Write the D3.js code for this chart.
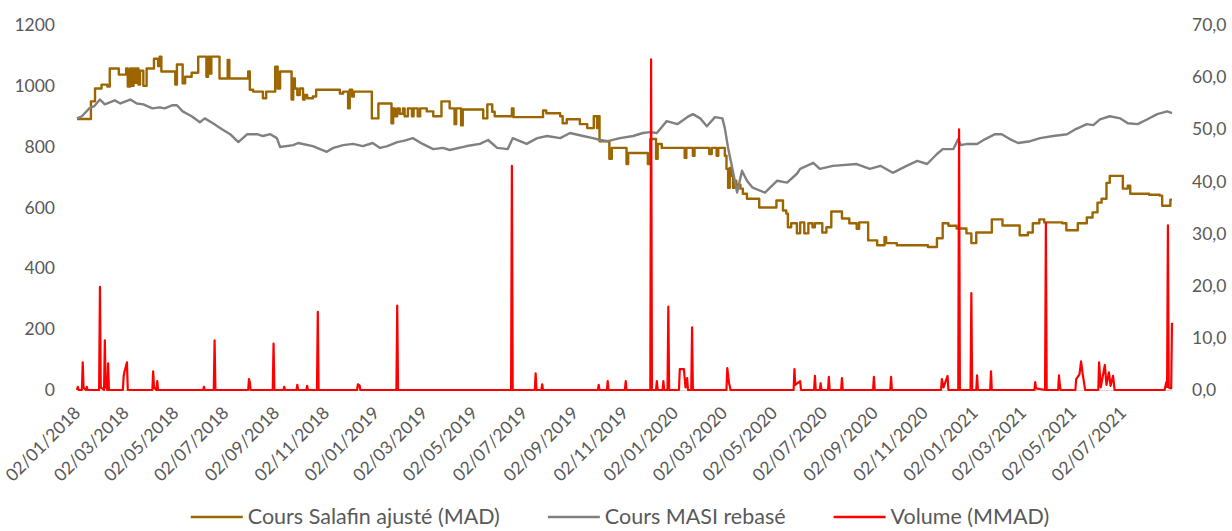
<!DOCTYPE html>
<html>
<head>
<meta charset="utf-8">
<script src="https://cdn.jsdelivr.net/npm/d3@7"></script>
<style>
  body { margin: 0; background: #fff; }
  svg { display: block; font-family: Lato, "Open Sans", sans-serif; }
</style>
</head>
<body>
<svg id="chart" width="1232" height="531"></svg>
<script>
// Cours Salafin ajusté (MAD) - dates de changement de cours
var salafinDates = ["2018-01-02","2018-01-19","2018-01-24","2018-02-01","2018-02-08","2018-02-11","2018-02-22","2018-03-03","2018-03-05","2018-03-08",
  "2018-03-10","2018-03-12","2018-03-14","2018-03-16","2018-03-18","2018-03-20","2018-03-24","2018-03-28","2018-04-06","2018-04-11",
  "2018-04-13","2018-04-15","2018-05-02","2018-05-04","2018-05-11","2018-05-14","2018-05-22","2018-05-30","2018-06-09","2018-06-11",
  "2018-06-13","2018-06-15","2018-06-25","2018-07-05","2018-07-07","2018-07-30","2018-08-01","2018-08-05","2018-08-17","2018-08-21",
  "2018-09-01","2018-09-04","2018-09-07","2018-09-21","2018-09-23","2018-09-25","2018-09-28","2018-10-01","2018-10-05","2018-10-07",
  "2018-10-10","2018-10-17","2018-10-21","2018-11-19","2018-11-23","2018-11-29","2018-12-01","2018-12-04","2018-12-06","2018-12-28",
  "2019-01-05","2019-01-21","2019-01-23","2019-01-25","2019-01-28","2019-01-31","2019-02-04","2019-02-06","2019-02-10","2019-02-15",
  "2019-02-17","2019-02-22","2019-02-25","2019-03-05","2019-03-13","2019-03-23","2019-04-02","2019-04-08","2019-04-10","2019-04-16",
  "2019-04-18","2019-05-13","2019-05-18","2019-05-24","2019-05-27","2019-06-17","2019-06-19","2019-07-25","2019-07-29","2019-08-15",
  "2019-08-18","2019-08-23","2019-09-08","2019-09-17","2019-09-25","2019-09-29","2019-09-30","2019-10-02","2019-10-14","2019-10-17",
  "2019-11-04","2019-11-06","2019-11-30","2019-12-03","2019-12-10","2019-12-12","2019-12-17","2020-01-14","2020-01-16","2020-01-24",
  "2020-01-26","2020-02-13","2020-02-16","2020-02-22","2020-02-24","2020-03-03","2020-03-05","2020-03-07","2020-03-09","2020-03-11",
  "2020-03-13","2020-03-15","2020-03-17","2020-03-22","2020-03-25","2020-03-30","2020-04-14","2020-05-05","2020-05-13","2020-05-17",
  "2020-05-19","2020-05-23","2020-05-30","2020-06-03","2020-06-08","2020-06-13","2020-06-18","2020-06-21","2020-06-30","2020-07-05",
  "2020-07-11","2020-07-24","2020-08-02","2020-08-11","2020-08-14","2020-08-25","2020-09-05","2020-09-14","2020-09-16","2020-09-29",
  "2020-11-06","2020-11-17","2020-11-24","2020-12-01","2020-12-11","2020-12-23","2020-12-29","2021-01-04","2021-01-23","2021-02-05",
  "2021-02-26","2021-03-08","2021-03-14","2021-03-22","2021-03-28","2021-04-19","2021-04-24","2021-05-08","2021-05-19","2021-05-26",
  "2021-06-01","2021-06-06","2021-06-12","2021-06-16","2021-07-02","2021-07-08","2021-07-11","2021-08-03","2021-08-16","2021-08-19",
  "2021-08-29","2021-08-31"];
var salafinValues = [891,949,991,1004,998,1057,1037,1057,998,1057,
  1000,1057,1010,1057,1004,1050,1000,1057,1089,1065,
  1096,1047,1004,1070,1008,1030,1043,1096,1030,1096,
  1040,1096,1024,1085,1024,1047,987,981,959,981,
  1063,991,1047,955,1024,991,970,991,955,970,
  959,965,987,975,981,926,987,965,981,893,
  942,877,926,900,926,908,926,900,926,900,
  926,900,926,916,900,949,926,874,926,870,
  922,893,939,915,900,926,897,919,910,900,
  877,890,874,861,900,861,900,818,760,796,
  743,779,743,825,760,809,796,763,796,770,
  796,776,796,770,796,770,727,665,730,704,
  665,688,675,662,645,629,600,623,590,580,
  535,548,515,551,515,548,535,548,518,535,
  587,564,548,530,551,492,476,502,483,476,
  470,499,548,540,531,515,483,518,561,541,
  509,518,548,561,551,548,525,548,567,584,
  616,629,681,704,662,672,645,642,639,606,
  626,626];

// Cours MASI rebasé
var masiDates = ["2018-01-02","2018-01-08","2018-01-17","2018-01-23","2018-01-30","2018-02-05","2018-02-17","2018-02-24","2018-03-08","2018-03-16",
  "2018-03-24","2018-04-04","2018-04-13","2018-04-19","2018-04-28","2018-05-04","2018-05-11","2018-05-22","2018-06-01","2018-06-07",
  "2018-06-17","2018-06-28","2018-07-08","2018-07-18","2018-07-29","2018-08-10","2018-08-17","2018-08-26","2018-09-03","2018-09-07",
  "2018-09-23","2018-09-29","2018-10-17","2018-11-03","2018-11-11","2018-11-23","2018-12-05","2018-12-17","2018-12-29","2019-01-07",
  "2019-01-16","2019-01-28","2019-02-06","2019-02-16","2019-02-28","2019-03-13","2019-03-25","2019-04-02","2019-04-23","2019-05-09",
  "2019-05-19","2019-05-30","2019-06-12","2019-06-18","2019-07-05","2019-07-18","2019-07-30","2019-08-15","2019-08-27","2019-09-12",
  "2019-09-24","2019-10-03","2019-10-12","2019-10-27","2019-11-12","2019-11-24","2019-12-03","2019-12-11","2019-12-23","2020-01-05",
  "2020-01-17","2020-01-24","2020-02-02","2020-02-10","2020-02-20","2020-02-29","2020-03-03","2020-03-07","2020-03-12","2020-03-18",
  "2020-03-24","2020-03-30","2020-04-06","2020-04-21","2020-05-06","2020-05-18","2020-05-30","2020-06-03","2020-06-19","2020-06-27",
  "2020-07-13","2020-08-11","2020-08-27","2020-09-09","2020-09-24","2020-10-11","2020-10-24","2020-11-05","2020-11-17","2020-11-24",
  "2020-12-07","2020-12-13","2020-12-16","2020-12-24","2021-01-05","2021-01-15","2021-01-27","2021-02-04","2021-02-14","2021-02-24",
  "2021-03-11","2021-03-23","2021-04-08","2021-04-25","2021-05-05","2021-05-19","2021-05-27","2021-06-04","2021-06-16","2021-06-29",
  "2021-07-08","2021-07-20","2021-08-01","2021-08-13","2021-08-25","2021-08-31"];
var masiValues = [893,900,926,933,955,939,952,942,955,942,
  939,926,929,926,936,936,916,900,880,893,
  877,857,841,815,841,841,835,841,828,799,
  805,812,802,783,796,805,809,802,812,796,
  802,815,820,828,809,792,796,789,802,809,
  822,796,792,828,809,828,835,828,845,835,
  828,822,818,828,835,845,848,845,884,874,
  897,907,893,867,897,893,861,796,731,649,
  721,688,665,649,688,682,711,727,747,727,
  737,743,727,737,714,737,753,743,776,792,
  792,825,805,809,809,825,841,841,825,812,
  818,828,835,841,857,874,871,890,900,893,
  877,874,890,907,916,910];

// Volume (MMAD), axe secondaire
var volumeDates = ["2018-01-02","2018-01-03","2018-01-04","2018-01-08","2018-01-09","2018-01-10","2018-01-13","2018-01-14","2018-01-15","2018-01-29",
  "2018-01-30","2018-01-31","2018-02-04","2018-02-05","2018-02-06","2018-02-08","2018-02-09","2018-02-10","2018-02-27","2018-02-28",
  "2018-03-01","2018-03-04","2018-03-05","2018-04-04","2018-04-05","2018-04-06","2018-04-09","2018-04-10","2018-04-11","2018-06-05",
  "2018-06-06","2018-06-07","2018-06-18","2018-06-19","2018-06-20","2018-07-30","2018-07-31","2018-08-01","2018-08-02","2018-08-29",
  "2018-08-30","2018-08-31","2018-09-11","2018-09-12","2018-09-13","2018-09-27","2018-09-28","2018-09-29","2018-10-09","2018-10-10",
  "2018-10-11","2018-10-22","2018-10-23","2018-10-24","2018-12-10","2018-12-11","2018-12-13","2018-12-14","2019-01-27","2019-01-28",
  "2019-01-29","2019-06-16","2019-06-17","2019-06-18","2019-07-15","2019-07-16","2019-07-17","2019-07-23","2019-07-24","2019-07-25",
  "2019-09-30","2019-10-01","2019-10-02","2019-10-11","2019-10-12","2019-10-13","2019-11-02","2019-11-03","2019-11-04","2019-12-03",
  "2019-12-04","2019-12-05","2019-12-10","2019-12-11","2019-12-12","2019-12-18","2019-12-19","2019-12-20","2019-12-24","2019-12-25",
  "2019-12-26","2020-01-07","2020-01-08","2020-01-10","2020-01-13","2020-01-15","2020-01-17","2020-01-18","2020-01-22","2020-01-23",
  "2020-01-24","2020-03-05","2020-03-06","2020-03-08","2020-03-10","2020-05-26","2020-05-27","2020-05-28","2020-06-03","2020-06-04",
  "2020-06-20","2020-06-21","2020-06-22","2020-06-27","2020-06-28","2020-06-29","2020-07-07","2020-07-08","2020-07-09","2020-07-23",
  "2020-07-24","2020-07-25","2020-08-31","2020-09-01","2020-09-02","2020-09-21","2020-09-22","2020-09-23","2020-11-22","2020-11-23",
  "2020-11-25","2020-11-30","2020-12-01","2020-12-13","2020-12-14","2020-12-15","2020-12-28","2020-12-29","2020-12-30","2021-01-04",
  "2021-01-05","2021-01-06","2021-01-21","2021-01-22","2021-01-23","2021-03-16","2021-03-17","2021-03-18","2021-03-29","2021-03-30",
  "2021-03-31","2021-04-14","2021-04-15","2021-04-16","2021-04-17","2021-05-05","2021-05-06","2021-05-10","2021-05-12","2021-05-14",
  "2021-05-17","2021-06-02","2021-06-03","2021-06-05","2021-06-10","2021-06-12","2021-06-15","2021-06-17","2021-06-20","2021-06-22",
  "2021-08-22","2021-08-24","2021-08-25","2021-08-26","2021-08-27","2021-08-30","2021-08-31"];
var volumeValues = [0,0.6,0,0,5.3,0.4,0,0.6,0,0,
  19.8,0.5,0,9.5,0.8,0,5.1,0,0,2.7,
  3.5,5.3,0,0,3.6,0.5,0,1.7,0,0,
  0.6,0,0,9.5,0,0,2.1,1.5,0,0,
  8.9,0,0,0.6,0,0,1.0,0,0,0.8,
  0,0,15.0,0,0,1.1,0.9,0,0,16.2,
  0,0,43.0,0,0,3.2,0,0,1.1,0,
  0,1.0,0,0,1.7,0,0,1.7,0,0,
  63.4,0,0,1.7,0,0,1.7,0,0,16.0,
  0,0,4.0,4.0,4.0,0.5,2.3,0,0,12.0,
  0,0,4.2,1.5,0,0,4.0,1.0,1.7,0,
  0,2.7,0,0,1.3,0,0,2.5,0,0,
  2.3,0,0,2.5,0,0,2.5,0,0,2.1,
  0.5,2.7,0,0,50.0,0,0,18.6,0,0,
  2.8,0,0,3.6,0,0,1.5,0.3,0,32.0,
  0,0,2.8,1.0,0,0,2.1,3.0,5.5,3.0,
  0,0,5.3,0.5,4.8,1.0,3.4,0.8,2.7,0,
  0,1.5,0.6,31.6,0.5,0.3,12.9];

var tickDates = ["2018-01-02","2018-03-02","2018-05-02","2018-07-02","2018-09-02","2018-11-02",
  "2019-01-02","2019-03-02","2019-05-02","2019-07-02","2019-09-02","2019-11-02",
  "2020-01-02","2020-03-02","2020-05-02","2020-07-02","2020-09-02","2020-11-02",
  "2021-01-02","2021-03-02","2021-05-02","2021-07-02"];
var leftTicks = [0, 200, 400, 600, 800, 1000, 1200];
var rightTicks = [0, 10, 20, 30, 40, 50, 60, 70];

var seriesNames = ["Cours Salafin ajusté (MAD)", "Cours MASI rebasé", "Volume (MMAD)"];
var seriesColors = ["#9c6500", "#808080", "#ff0000"];

var parse = d3.timeParse("%Y-%m-%d");
var svg = d3.select("#chart");

var x = d3.scaleTime()
    .domain([parse("2018-01-02"), parse("2021-08-31")])
    .range([77, 1172]);
var yLeft = d3.scaleLinear().domain([0, 1200]).range([390, 25]);
var yRight = d3.scaleLinear().domain([0, 70]).range([390, 25]);

function toPoints(dates, values) {
    return dates.map(function(d, i) { return { date: parse(d), value: values[i] }; });
}
var salafin = toPoints(salafinDates, salafinValues);
var masi = toPoints(masiDates, masiValues);
var volume = toPoints(volumeDates, volumeValues);

var tickColor = "#595959";

// axe gauche
var gLeft = svg.append("g")
    .attr("transform", "translate(77,0)")
    .call(d3.axisLeft(yLeft).tickValues(leftTicks).tickSize(0).tickPadding(22)
        .tickFormat(d3.format("d")));
gLeft.select(".domain").remove();

// axe droit
var gRight = svg.append("g")
    .attr("transform", "translate(1172,0)")
    .call(d3.axisRight(yRight).tickValues(rightTicks).tickSize(0).tickPadding(20)
        .tickFormat(function(d) { return d3.format(".1f")(d).replace(".", ","); }));
gRight.select(".domain").remove();

// axe des dates
var gBottom = svg.append("g")
    .attr("transform", "translate(0,390)")
    .call(d3.axisBottom(x).tickValues(tickDates.map(parse)).tickSize(0)
        .tickFormat(d3.timeFormat("%d/%m/%Y")));
gBottom.select(".domain").attr("stroke", "#d9d9d9").attr("stroke-width", 1);
gBottom.selectAll("text")
    .attr("x", 0).attr("y", 0).attr("dy", null)
    .attr("text-anchor", "end")
    .attr("transform", "translate(4,24) rotate(-45)");

svg.selectAll(".tick text")
    .attr("fill", tickColor)
    .style("font-size", "17.5px")
    .style("font-family", "Lato, 'Open Sans', sans-serif");

// courbes
var lineLeft = d3.line()
    .x(function(d) { return x(d.date); })
    .y(function(d) { return yLeft(d.value); });
var stepLeft = d3.line()
    .curve(d3.curveStepAfter)
    .x(function(d) { return x(d.date); })
    .y(function(d) { return yLeft(d.value); });
var lineRight = d3.line()
    .x(function(d) { return x(d.date); })
    .y(function(d) { return yRight(d.value); });

svg.append("path")
    .datum(salafin)
    .attr("fill", "none")
    .attr("stroke", seriesColors[0])
    .attr("stroke-width", 2.4)
    .attr("stroke-linejoin", "round")
    .attr("d", stepLeft);

svg.append("path")
    .datum(masi)
    .attr("fill", "none")
    .attr("stroke", seriesColors[1])
    .attr("stroke-width", 2.4)
    .attr("stroke-linejoin", "round")
    .attr("d", lineLeft);

svg.append("path")
    .datum(volume)
    .attr("fill", "none")
    .attr("stroke", seriesColors[2])
    .attr("stroke-width", 2.2)
    .attr("stroke-linejoin", "round")
    .attr("d", lineRight);

// légende
var legend = svg.append("g");
var items = legend.selectAll("g")
    .data(seriesNames)
    .enter().append("g");
items.append("line")
    .attr("x1", 0).attr("x2", 52)
    .attr("y1", 517).attr("y2", 517)
    .attr("stroke", function(d, i) { return seriesColors[i]; })
    .attr("stroke-width", 2.4);
items.append("text")
    .attr("x", 57).attr("y", 524)
    .attr("fill", tickColor)
    .style("font-size", "21.5px")
    .text(function(d) { return d; });

var pos = 0;
var widths = [];
items.each(function() {
    var w = 57 + d3.select(this).select("text").node().getComputedTextLength();
    widths.push(w);
});
var total = d3.sum(widths) + 48 * (widths.length - 1);
var start = 620 - total / 2;
items.attr("transform", function(d, i) {
    var tx = start + pos;
    pos += widths[i] + 48;
    return "translate(" + tx + ",0)";
});
</script>
</body>
</html>
